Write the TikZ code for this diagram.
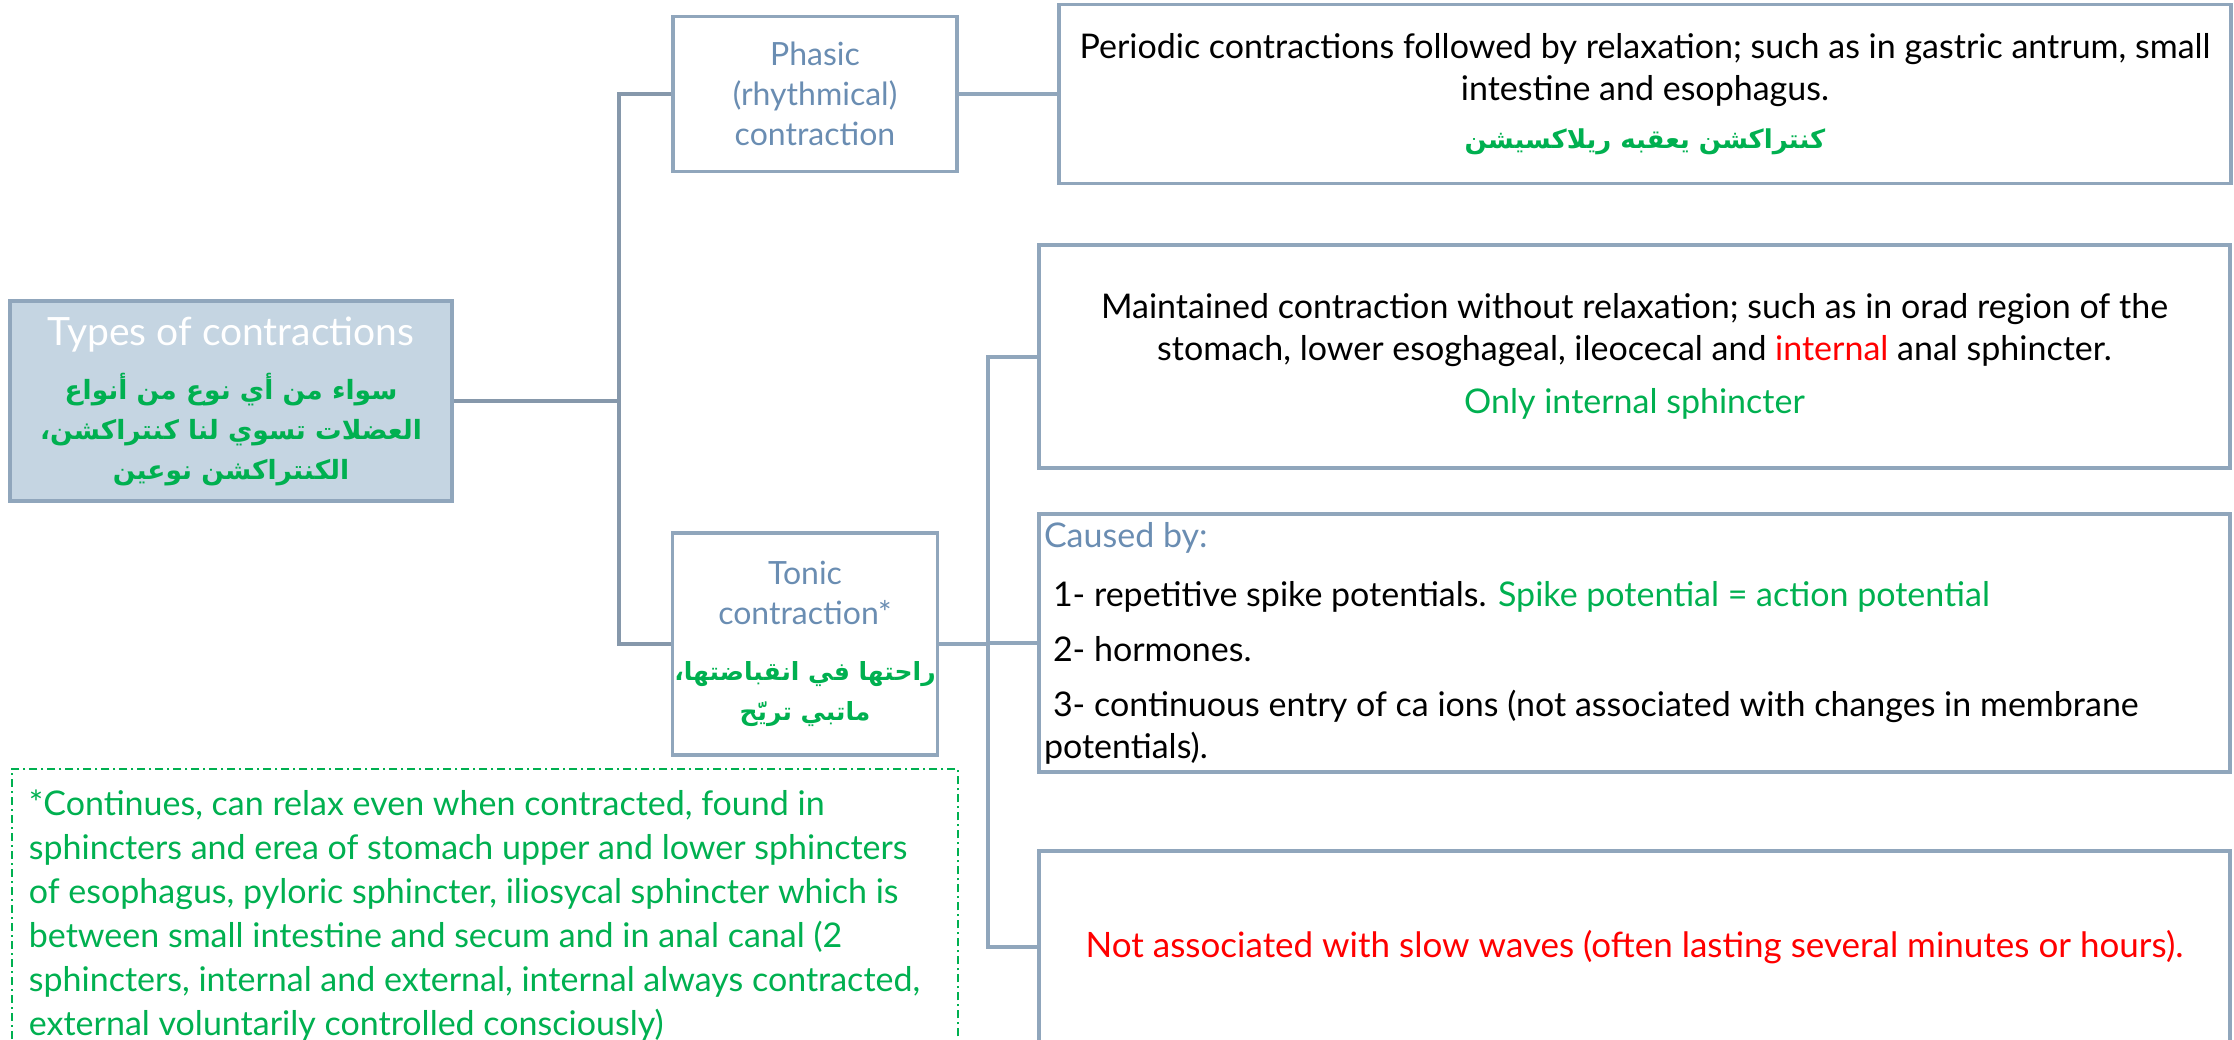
\documentclass[tikz,border=0pt]{standalone}
\usepackage{fontspec}
\setmainfont{Lato}
\newfontfamily\arabicfont[Script=Arabic]{DejaVu Sans}
\TeXXeTstate=1
\usepackage{tikz}

\definecolor{linegray}{HTML}{90A6BC}
\definecolor{trunkgray}{HTML}{8698AB}
\definecolor{rootfill}{HTML}{C5D5E2}
\definecolor{headblue}{HTML}{6A8DB2}
\definecolor{notegreen}{HTML}{00B050}
\definecolor{alertred}{HTML}{FF0000}

\newcommand{\artext}[1]{{\arabicfont\bfseries\beginR #1\endR}}

\begin{document}
\begin{tikzpicture}[x=1pt,y=-1pt]
    \clip (0,0) rectangle (2234,1040);
    \begin{scope}[every node/.style={draw=linegray,line width=3.5pt,align=center,inner sep=0pt,font=\fontsize{34}{42}\selectfont}]
      \node[fill=rootfill,text=notegreen,minimum width=442pt,minimum height=200pt,font=\fontsize{26.5}{40}\selectfont] (types) at (231,401)
        {{\color{white}\fontsize{39}{40}\selectfont Types of contractions}\\[14pt]
         \artext{سواء من أي نوع من أنواع}\\
         \artext{العضلات تسوي لنا كنتراكشن،}\\
         \artext{الكنتراكشن نوعين}};
      \node[text=headblue,minimum width=284pt,minimum height=155pt,font=\fontsize{32}{40}\selectfont] (phasic) at (815,94)
        {Phasic\\(rhythmical)\\contraction};
      \node[text=headblue,minimum width=265pt,minimum height=222pt,font=\fontsize{32}{40}\selectfont] (tonic) at (805,644)
        {Tonic\\contraction*\\[16pt]
         {\color{notegreen}\fontsize{25}{40}\selectfont\artext{راحتها في انقباضتها،}}\\
         {\color{notegreen}\fontsize{25}{40}\selectfont\artext{ماتبي تريّح}}};
      \node[minimum width=1172pt,minimum height=179pt] (periodic) at (1645,94)
        {Periodic contractions followed by relaxation; such as in gastric antrum, small\\
         intestine and esophagus.\\[6pt]
         {\color{notegreen}\fontsize{26}{42}\selectfont\artext{كنتراكشن يعقبه ريلاكسيشن}}};
      \node[minimum width=1191pt,minimum height=223pt] (maintained) at (1634.5,356.5)
        {Maintained contraction without relaxation; such as in orad region of the\\
         stomach, lower esoghageal, ileocecal and {\color{alertred}internal} anal sphincter.\\[11pt]
         {\color{notegreen}Only internal sphincter}};
      \node[minimum width=1191pt,minimum height=258pt,text width=1181pt,align=flush left,inner xsep=5pt] (caused) at (1634.5,643)
        {{\color{headblue}Caused by:}\\[17pt]
         \hspace*{9pt}1- repetitive spike potentials. {\color{notegreen}Spike potential = action potential}\\[13pt]
         \hspace*{9pt}2- hormones.\\[13pt]
         \hspace*{9pt}3- continuous entry of ca ions (not associated with changes in membrane\\
         potentials).};
      \node[text=alertred,minimum width=1191pt,minimum height=192pt,font=\fontsize{35}{42}\selectfont] (notassoc) at (1634.5,947)
        {Not associated with slow waves (often lasting several minutes or hours).};
    \end{scope}

    % footnote for the asterisk
    \node[draw=notegreen,line width=1.8pt,dash pattern=on 8pt off 4pt on 2pt off 4pt,text=notegreen,
          text width=912pt,align=flush left,inner xsep=17pt,inner ysep=21pt,anchor=north west,
          font=\fontsize{34}{44}\selectfont] (note) at (11,768)
      {*Continues, can relax even when contracted, found in\\
       sphincters and erea of stomach upper and lower sphincters\\
       of esophagus, pyloric sphincter, iliosycal sphincter which is\\
       between small intestine and secum and in anal canal (2\\
       sphincters, internal and external, internal always contracted,\\
       external voluntarily controlled consciously)};

    \coordinate (split) at (619,401);
    \coordinate (fork) at (988,644);
    \begin{scope}[every edge/.style={draw=trunkgray,line width=4pt,to path={|- (\tikztotarget)}}]
      \path (types.east) edge (split);
      \path (split) edge (phasic.west);
      \path (split) edge (tonic.west);
    \end{scope}
    \begin{scope}[every edge/.style={draw=linegray,line width=4pt,to path={|- (\tikztotarget)}}]
      \path (phasic.east) edge (periodic.west);
      \path (tonic.east) edge (fork);
      \path (fork) edge (maintained.west);
      \path (fork) edge (caused.west);
      \path (fork) edge (notassoc.west);
    \end{scope}
\end{tikzpicture}
\end{document}
